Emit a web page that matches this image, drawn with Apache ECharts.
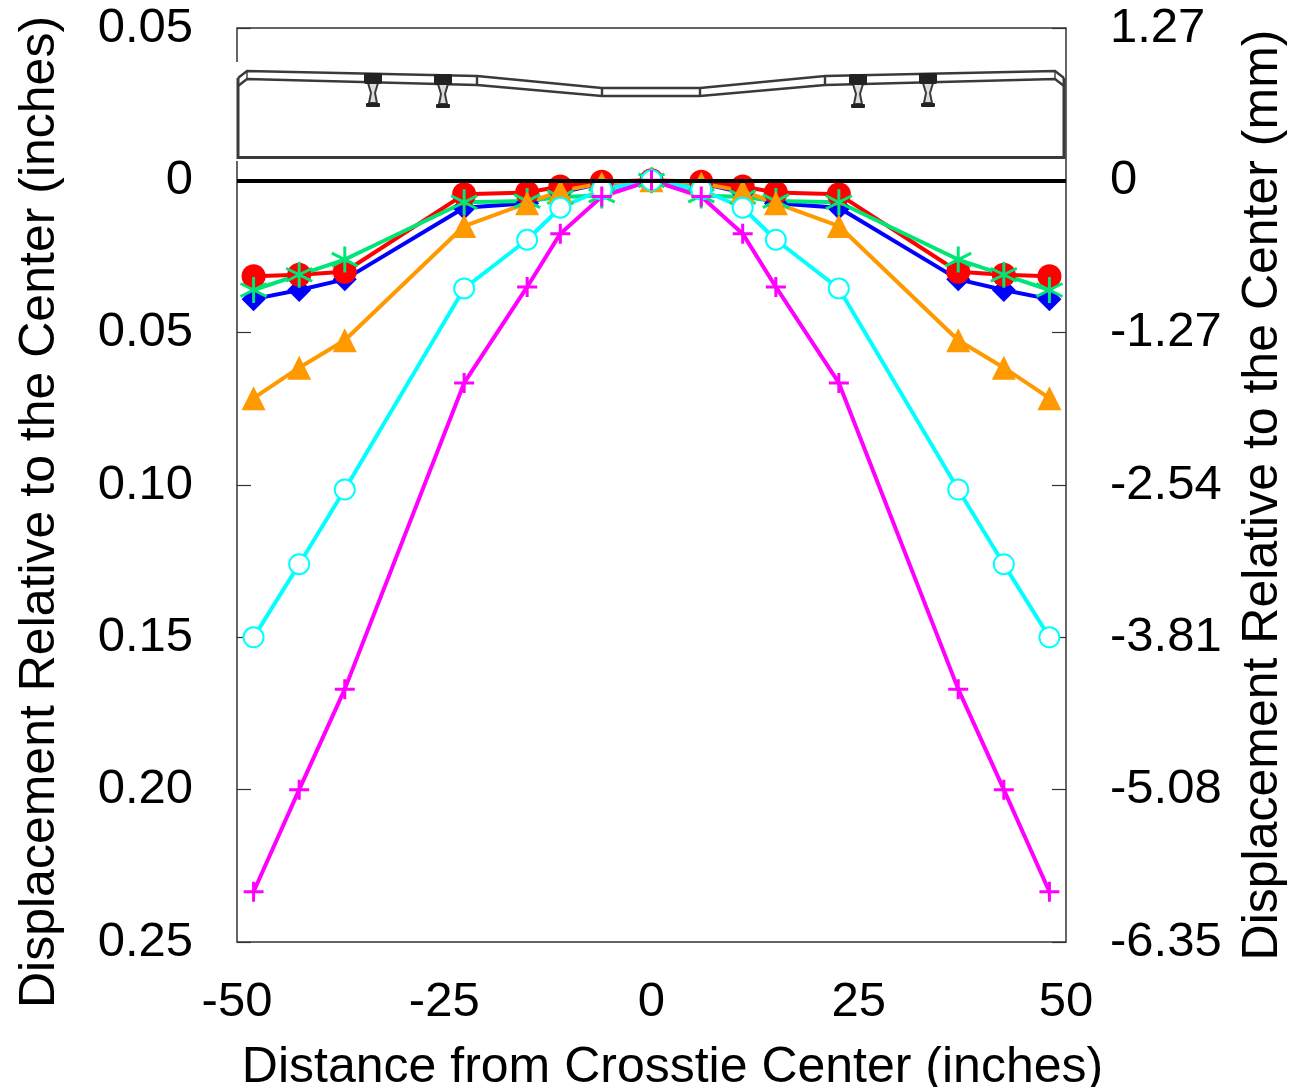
<!DOCTYPE html>
<html>
<head>
<meta charset="utf-8">
<script src="https://cdn.jsdelivr.net/npm/echarts@6/dist/echarts.min.js"></script>
<style>
  html, body { margin: 0; padding: 0; background: #fff; }
  #chart { width: 1289px; height: 1087px; }
</style>
</head>
<body>
<div id="chart"></div>
<script>
// distance from crosstie center (inches)
const distance = [-48, -42.5, -37, -22.6, -15, -11, -6, 0, 6, 11, 15, 22.6, 37, 42.5, 48];

// displacement relative to the center (inches), one list per load step
const redValues = [0.0315, 0.031, 0.030, 0.0046, 0.004, 0.002, 0.0005, 0, 0.0005, 0.002, 0.004, 0.0046, 0.030, 0.031, 0.0315];
const blueValues = [0.039, 0.036, 0.0325, 0.009, 0.0075, 0.004, 0.001, 0, 0.001, 0.004, 0.0075, 0.009, 0.0325, 0.036, 0.039];
const greenValues = [0.036, 0.031, 0.026, 0.0072, 0.0068, 0.0055, 0.005, 0, 0.005, 0.0055, 0.0068, 0.0072, 0.026, 0.031, 0.036];
const orangeValues = [0.0715, 0.0615, 0.0525, 0.015, 0.0075, 0.0035, 0.001, 0, 0.001, 0.0035, 0.0075, 0.015, 0.0525, 0.0615, 0.0715];
const cyanValues = [0.15, 0.126, 0.1015, 0.0355, 0.0195, 0.009, 0.003, 0, 0.003, 0.009, 0.0195, 0.0355, 0.1015, 0.126, 0.15];
const magentaValues = [0.2335, 0.2, 0.167, 0.0665, 0.035, 0.0175, 0.0053, 0, 0.0053, 0.0175, 0.035, 0.0665, 0.167, 0.2, 0.2335];

const leftTickLabels = ['0.05', '0', '0.05', '0.10', '0.15', '0.20', '0.25'];
const rightTickLabels = ['1.27', '0', '-1.27', '-2.54', '-3.81', '-5.08', '-6.35'];

const FONT = '"Liberation Sans", Arial, sans-serif';
const PLUS = 'path://M-1 0L1 0M0 -1L0 1';
const STAR = 'path://M0 -1L0 1M-0.87 -0.5L0.87 0.5M-0.87 0.5L0.87 -0.5';

const tickLabel = (labels) => (value) => labels[Math.round((value + 0.05) / 0.05)];

const makeSeries = (name, values, color, symbol, symbolSize, itemStyle) => ({
    name: name,
    type: 'line',
    data: distance.map((d, i) => [d, values[i]]),
    symbol: symbol,
    symbolSize: symbolSize,
    showAllSymbol: true,
    lineStyle: {color: color, width: 4},
    itemStyle: itemStyle || {color: color},
    emphasis: {disabled: true}
});

// the tie and rail sketch over the top of the plot
const sketchLine = (points, width) => ({
    type: 'polyline',
    silent: true,
    shape: {points: points},
    style: {stroke: '#3a3a3a', lineWidth: width || 2.4, fill: null}
});

const rail = (x, top) => [
    {type: 'polygon', silent: true, shape: {points: [[x - 5, top + 10], [x + 5, top + 10], [x + 2, top + 20], [x + 4, top + 30], [x - 4, top + 30], [x - 2, top + 20]]}, style: {fill: '#ddd', stroke: '#3a3a3a', lineWidth: 2}},
    {type: 'rect', silent: true, shape: {x: x - 9, y: top, width: 18, height: 11, r: 2}, style: {fill: '#222'}},
    {type: 'rect', silent: true, shape: {x: x - 7, y: top + 30, width: 14, height: 4, r: 1}, style: {fill: '#222'}}
];

const sketch = [
    {type: 'rect', silent: true, shape: {x: 236, y: 62, width: 4, height: 99}, style: {fill: '#fff'}},
    sketchLine([[238, 78], [247, 71], [477, 76], [602, 88], [700, 88], [825, 76], [1055, 71], [1064, 78]]),
    sketchLine([[238, 86], [247, 79], [477, 85], [602, 96], [700, 96], [825, 85], [1055, 79], [1064, 86]]),
    sketchLine([[238, 78], [238, 157.5], [1064, 157.5], [1064, 78]], 3),
    sketchLine([[477, 76], [477, 85]]),
    sketchLine([[602, 88], [602, 96]]),
    sketchLine([[700, 88], [700, 96]]),
    sketchLine([[825, 76], [825, 85]]),
    sketchLine([[247, 71], [247, 79]], 1.4),
    sketchLine([[1055, 71], [1055, 79]], 1.4),
    ...rail(373, 73), ...rail(443, 74), ...rail(858, 74), ...rail(928, 73)
];

const chart = echarts.init(document.getElementById('chart'), null, {renderer: 'canvas'});

const yAxisBase = {
    type: 'value',
    inverse: true,
    min: -0.05,
    max: 0.25,
    interval: 0.05,
    nameLocation: 'middle',
    axisLine: {show: false, onZero: false},
    axisTick: {show: true, inside: true, length: 14, lineStyle: {color: '#333', width: 1.2}},
    splitLine: {show: false}
};

const option = {
    animation: false,
    backgroundColor: '#fff',
    grid: {
        left: 237,
        right: 223,
        top: 28,
        bottom: 145,
        show: true,
        borderColor: '#333',
        borderWidth: 1.5,
        outerBoundsMode: 'none'
    },
    xAxis: {
        type: 'value',
        min: -50,
        max: 50,
        interval: 25,
        name: 'Distance from Crosstie Center (inches)',
        nameLocation: 'middle',
        nameGap: 101,
        nameTextStyle: {fontFamily: FONT, fontSize: 50, color: '#000', padding: [0, 0, 0, 42]},
        axisLine: {show: false, onZero: false},
        axisTick: {show: false},
        splitLine: {show: false},
        axisLabel: {fontFamily: FONT, fontSize: 49, color: '#000', margin: 36}
    },
    yAxis: [
        Object.assign({}, yAxisBase, {
            position: 'left',
            name: 'Displacement Relative to the Center (inches)',
            nameGap: 172,
            nameTextStyle: {fontFamily: FONT, fontSize: 50, color: '#000', padding: [0, 54, 0, 0]},
            axisLabel: {fontFamily: FONT, fontSize: 49, color: '#000', margin: 44, formatter: tickLabel(leftTickLabels)}
        }),
        Object.assign({}, yAxisBase, {
            position: 'right',
            name: 'Displacement Relative to the Center (mm)',
            nameGap: 172,
            nameTextStyle: {fontFamily: FONT, fontSize: 50, color: '#000', padding: [0, 20, 0, 0]},
            axisLabel: {fontFamily: FONT, fontSize: 49, color: '#000', margin: 44, formatter: tickLabel(rightTickLabels)}
        })
    ],
    graphic: {elements: [{type: 'group', silent: true, z: 1, children: sketch}]},
    series: [
        makeSeries('blue', blueValues, '#0000ff', 'diamond', 24),
        Object.assign(makeSeries('red', redValues, '#ff0000', 'circle', 24), {
            markLine: {
                silent: true,
                symbol: 'none',
                z: 20,
                label: {show: false},
                lineStyle: {color: '#000', width: 4, type: 'solid'},
                data: [{yAxis: 0}]
            }
        }),
        makeSeries('green', greenValues, '#00e676', STAR, 26, {color: 'none', borderColor: '#00e676', borderWidth: 3}),
        makeSeries('orange', orangeValues, '#ff9900', 'triangle', 24),
        makeSeries('cyan', cyanValues, '#00ffff', 'circle', 20, {color: '#fff', borderColor: '#00ffff', borderWidth: 2}),
        makeSeries('magenta', magentaValues, '#ff00ff', PLUS, 20, {color: 'none', borderColor: '#ff00ff', borderWidth: 3})
    ]
};

chart.setOption(option);
</script>
</body>
</html>
